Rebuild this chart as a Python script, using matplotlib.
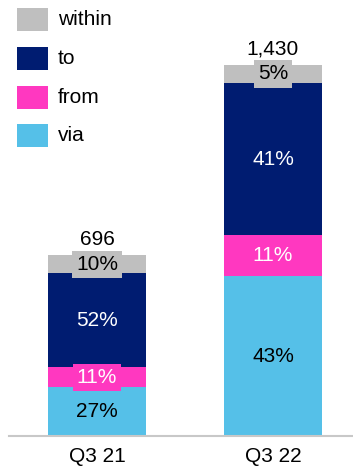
import matplotlib
matplotlib.use("Agg")
import matplotlib.pyplot as plt
from matplotlib.patches import Rectangle

plt.rcParams['font.family'] = ['Liberation Sans', 'DejaVu Sans']

# Data
periods = ["Q3 21", "Q3 22"]
totals = [696, 1430]
segments = ["via", "from", "to", "within"]
shares = {
    "via": [27, 43],
    "from": [11, 11],
    "to": [52, 41],
    "within": [10, 5],
}
colors = {
    "via": "#55C0E8",
    "from": "#FF38C0",
    "to": "#001C71",
    "within": "#BFBFBF",
}
text_colors = {
    "via": "black",
    "from": "white",
    "to": "white",
    "within": "black",
}
total_labels = ["696", "1,430"]
legend_order = ["within", "to", "from", "via"]

W, H = 353, 471
fig = plt.figure(figsize=(W / 100, H / 100), dpi=100)
ax = fig.add_axes([9 / W, 1 - 436 / H, 1 - 9 / W, 436 / H])

x = list(range(len(periods)))
bar_w = 98 / 176
bottoms = [0.0] * len(periods)
fs = 15
for seg in segments:
    vals = [t * s / 100 for t, s in zip(totals, shares[seg])]
    ax.bar(x, vals, bottom=bottoms, width=bar_w, color=colors[seg],
           edgecolor="none", zorder=2)
    for i, v in enumerate(vals):
        ax.text(x[i], bottoms[i] + v / 2, f"{shares[seg][i]}%",
                ha="center", va="center", fontsize=fs,
                color=text_colors[seg], zorder=4,
                bbox=dict(boxstyle="square,pad=0.2", fc=colors[seg],
                          ec="none"))
    bottoms = [b + v for b, v in zip(bottoms, vals)]

for i, t in enumerate(totals):
    ax.text(x[i], t + 25, total_labels[i], ha="center", va="bottom",
            fontsize=fs, color="black")

ax.set_xlim(-0.5, 1 + 80 / 176)
ax.set_ylim(0, 436 / 0.2597)
ax.set_xticks(x)
ax.set_xticklabels(periods, fontsize=fs)
ax.tick_params(axis="x", length=0, pad=8)
ax.set_yticks([])
for s in ["top", "right", "left"]:
    ax.spines[s].set_visible(False)
ax.spines["bottom"].set_color("#C8C8C8")
ax.spines["bottom"].set_linewidth(1.5)
ax.patch.set_alpha(0)

# Legend: colour squares with labels, laid out in figure pixels
row_tops = [8, 47, 86, 124]
for seg, top in zip(legend_order, row_tops):
    fig.patches.append(Rectangle((17 / W, 1 - (top + 23) / H), 31 / W, 23 / H,
                                 transform=fig.transFigure,
                                 facecolor=colors[seg], edgecolor="none"))
    fig.text(58 / W, 1 - (top + 11.5) / H, seg, ha="left", va="center",
             fontsize=fs, color="black")

fig.savefig("out.png", dpi=100)
